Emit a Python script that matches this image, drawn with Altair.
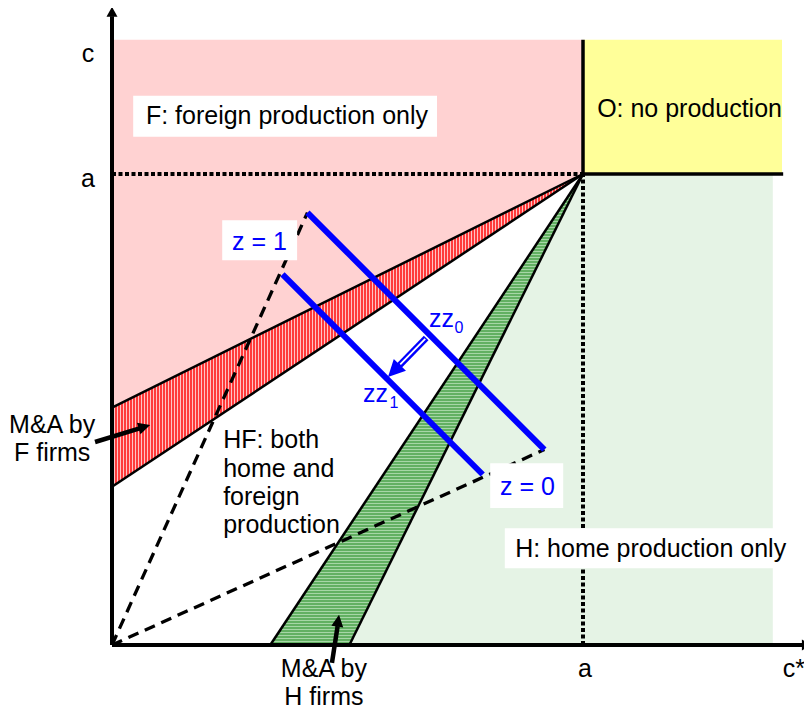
import altair as alt
import pandas as pd

# ---------------- model values (units: a = 1) ----------------
A = 1.0            # the point a on both axes
C_TOP = 1.285      # c (top of the c axis)
XR_H = 1.403       # right edge of region H
XR_O = 1.4225      # right edge of region O
F_HI = 0.504       # upper boundary of "M&A by F firms" band (intercept on c axis)
F_LO = 0.336       # lower boundary of that band
H_HI = 0.504       # right boundary of "M&A by H firms" band (intercept on c* axis)
H_LO = 0.336       # left boundary of that band

zz0_x = [0.415, 0.918]
zz0_y = [0.918, 0.415]
zz1_x = [0.362, 0.787]
zz1_y = [0.787, 0.362]

Y_AXIS_TOP = 1.355
X_AXIS_END = 1.486

# ---------------- layout ----------------
W, H = 796, 702
PXU = 471.0                       # pixels per unit a
OX, OY = 104.0, 637.0             # origin inside plot area (px)
XD = [-OX / PXU, (W - OX) / PXU]
YD = [(OY - H) / PXU, OY / PXU]

FONT = "Liberation Sans"
FS = 25
xs = alt.Scale(domain=XD, nice=False, zero=False)
ys = alt.Scale(domain=YD, nice=False, zero=False)
X = lambda f="x": alt.X(f"{f}:Q", scale=xs, axis=None)
Y = lambda f="y": alt.Y(f"{f}:Q", scale=ys, axis=None)


def stripes(c1, c2, n, frac, horizontal):
    stops = []
    for k in range(n):
        a0 = k / n
        a1 = (k + frac) / n
        a2 = (k + 1) / n
        stops += [alt.GradientStop(color=c1, offset=a0),
                  alt.GradientStop(color=c1, offset=a1),
                  alt.GradientStop(color=c2, offset=a1),
                  alt.GradientStop(color=c2, offset=a2 - 1e-6)]
    if horizontal:
        return alt.LinearGradient(gradient="linear", stops=stops, x1=0, x2=0, y1=0, y2=1)
    return alt.LinearGradient(gradient="linear", stops=stops, x1=0, x2=1, y1=0, y2=0)


def seg_df(segs):
    rows = []
    for i, (xa, ya, xb, yb) in enumerate(segs):
        rows.append({"seg": i, "o": 0, "x": xa, "y": ya})
        rows.append({"seg": i, "o": 1, "x": xb, "y": yb})
    return pd.DataFrame(rows)


def lines(segs, **kw):
    return alt.Chart(seg_df(segs)).mark_line(**kw).encode(
        x=X(), y=Y(), detail="seg:N", order="o:Q")


def vband(xv, lo, hi, color):
    df = pd.DataFrame({"x": xv, "y": lo, "y2": hi})
    return alt.Chart(df).mark_area(color=color, opacity=1).encode(
        x=X(), y=Y(), y2="y2:Q")


def hband(yv, lo, hi, color):
    df = pd.DataFrame({"y": yv, "x": lo, "x2": hi})
    return alt.Chart(df).mark_area(color=color, opacity=1, orient="horizontal").encode(
        y=Y(), x=X(), x2="x2:Q")


def box(x0, x1, y0, y1, color="white"):
    df = pd.DataFrame({"x": [x0], "x2": [x1], "y": [y0], "y2": [y1]})
    return alt.Chart(df).mark_rect(color=color, opacity=1).encode(
        x=X(), x2="x2:Q", y=Y(), y2="y2:Q")


def texts(items, align="left", size=FS, color="black"):
    df = pd.DataFrame(items, columns=["x", "y", "t"])
    return alt.Chart(df).mark_text(
        align=align, baseline="alphabetic", font=FONT, fontSize=size, color=color
    ).encode(x=X(), y=Y(), text="t:N")


ARROW = "M0,0L-0.5,1L0.5,1Z"
WIDE = "M0,0L-0.55,1L0.55,1Z"


def head(x, y, ang, size, color="black", shape=ARROW):
    df = pd.DataFrame({"x": [x], "y": [y]})
    return alt.Chart(df).mark_point(
        shape=shape, filled=True, opacity=1, size=size, angle=ang,
        color=color, strokeWidth=0
    ).encode(x=X(), y=Y())


layers = []
# regions
layers.append(vband([0, A], [F_HI, A], [C_TOP, C_TOP], "#FFD2D2"))      # F
layers.append(vband([0, A], [F_LO, A], [F_HI, A],
                    stripes("#FF3B3B", "#FFC4C4", 157, 0.62, False)))   # M&A by F
layers.append(box(A, XR_O, A, C_TOP, "#FFFF99"))                         # O
layers.append(hband([0, A], [H_HI, A], [XR_H, XR_H], "#E5F3E5"))         # H
layers.append(hband([0, A], [H_LO, A], [H_HI, A],
                    stripes("#62B062", "#A6D6A6", 157, 0.62, True)))    # M&A by H

# boundaries
layers.append(lines([(0, F_HI, A, A), (0, F_LO, A, A),
                     (H_LO, 0, A, A), (H_HI, 0, A, A)],
                    color="black", strokeWidth=2.5))
layers.append(lines([(A, A, A, C_TOP), (A, A, 1.425, A)],
                    color="black", strokeWidth=3.5))
layers.append(lines([(0, A, A, A), (A, 0, A, A)],
                    color="black", strokeWidth=4, strokeDash=[4, 2.5]))
layers.append(lines([(0, 0, zz0_x[0], zz0_y[0]), (0, 0, zz0_x[1], zz0_y[1])],
                    color="black", strokeWidth=3.3, strokeDash=[11, 7]))
layers.append(lines([(zz0_x[0], zz0_y[0], zz0_x[1], zz0_y[1]),
                     (zz1_x[0], zz1_y[0], zz1_x[1], zz1_y[1])],
                    color="#0000FF", strokeWidth=6))

# axes
layers.append(lines([(0, 0, 0, Y_AXIS_TOP - 0.02), (0, 0, X_AXIS_END - 0.02, 0)],
                    color="black", strokeWidth=4))
layers.append(head(0, Y_AXIS_TOP, 0, 400, shape=WIDE))
layers.append(head(X_AXIS_END, 0, 90, 400, shape=WIDE))

# white label boxes
layers.append(box(0.045, 0.690, 1.079, 1.166))
layers.append(box(0.234, 0.393, 0.817, 0.902))
layers.append(box(0.803, 0.958, 0.291, 0.386))
layers.append(box(0.834, 1.44, 0.163, 0.248))

# arrows
layers.append(lines([(-0.036, 0.431, 0.062, 0.461), (0.467, -0.038, 0.479, 0.040)],
                    color="black", strokeWidth=4.5))
layers.append(head(0.081, 0.467, 72.8, 576))
layers.append(head(0.482, 0.064, 8.3, 576))
layers.append(lines([(0.667, 0.652, 0.605, 0.588)], color="#0000FF", strokeWidth=6.5))
layers.append(lines([(0.665, 0.650, 0.612, 0.596)], color="white", strokeWidth=1.8))
layers.append(head(0.586, 0.569, 224.3, 1156, color="#0000FF"))

# texts
layers.append(texts([(-0.051, 1.238, "c"), (-0.051, 0.972, "a"), (1.004, -0.068, "a")],
                    align="center"))
layers.append(texts([(1.424, -0.068, "c*")]))
layers.append(texts([(0.072, 1.106, "F: foreign production only"),
                     (1.030, 1.121, "O: no production"),
                     (0.856, 0.187, "H: home production only"),
                     (0.236, 0.418, "HF: both"),
                     (0.236, 0.357, "home and"),
                     (0.236, 0.297, "foreign"),
                     (0.236, 0.238, "production")]))
layers.append(texts([(-0.127, 0.450, "M&A by"), (-0.127, 0.391, "F firms"),
                     (0.450, -0.068, "M&A by"), (0.450, -0.127, "H firms")],
                    align="center"))
layers.append(texts([(0.255, 0.839, "z = 1"), (0.824, 0.318, "z = 0"),
                     (0.673, 0.675, "zz"), (0.533, 0.516, "zz")],
                    color="#0000FF"))
layers.append(texts([(0.727, 0.662, "0"), (0.589, 0.503, "1")],
                    color="#0000FF", size=16))

chart = alt.layer(*layers).properties(
    width=W, height=H,
    autosize=alt.AutoSizeParams(type="none"),
    padding=0,
).configure_view(stroke=None)

chart.save("out.html", embed_options={"renderer": "svg", "actions": False})
